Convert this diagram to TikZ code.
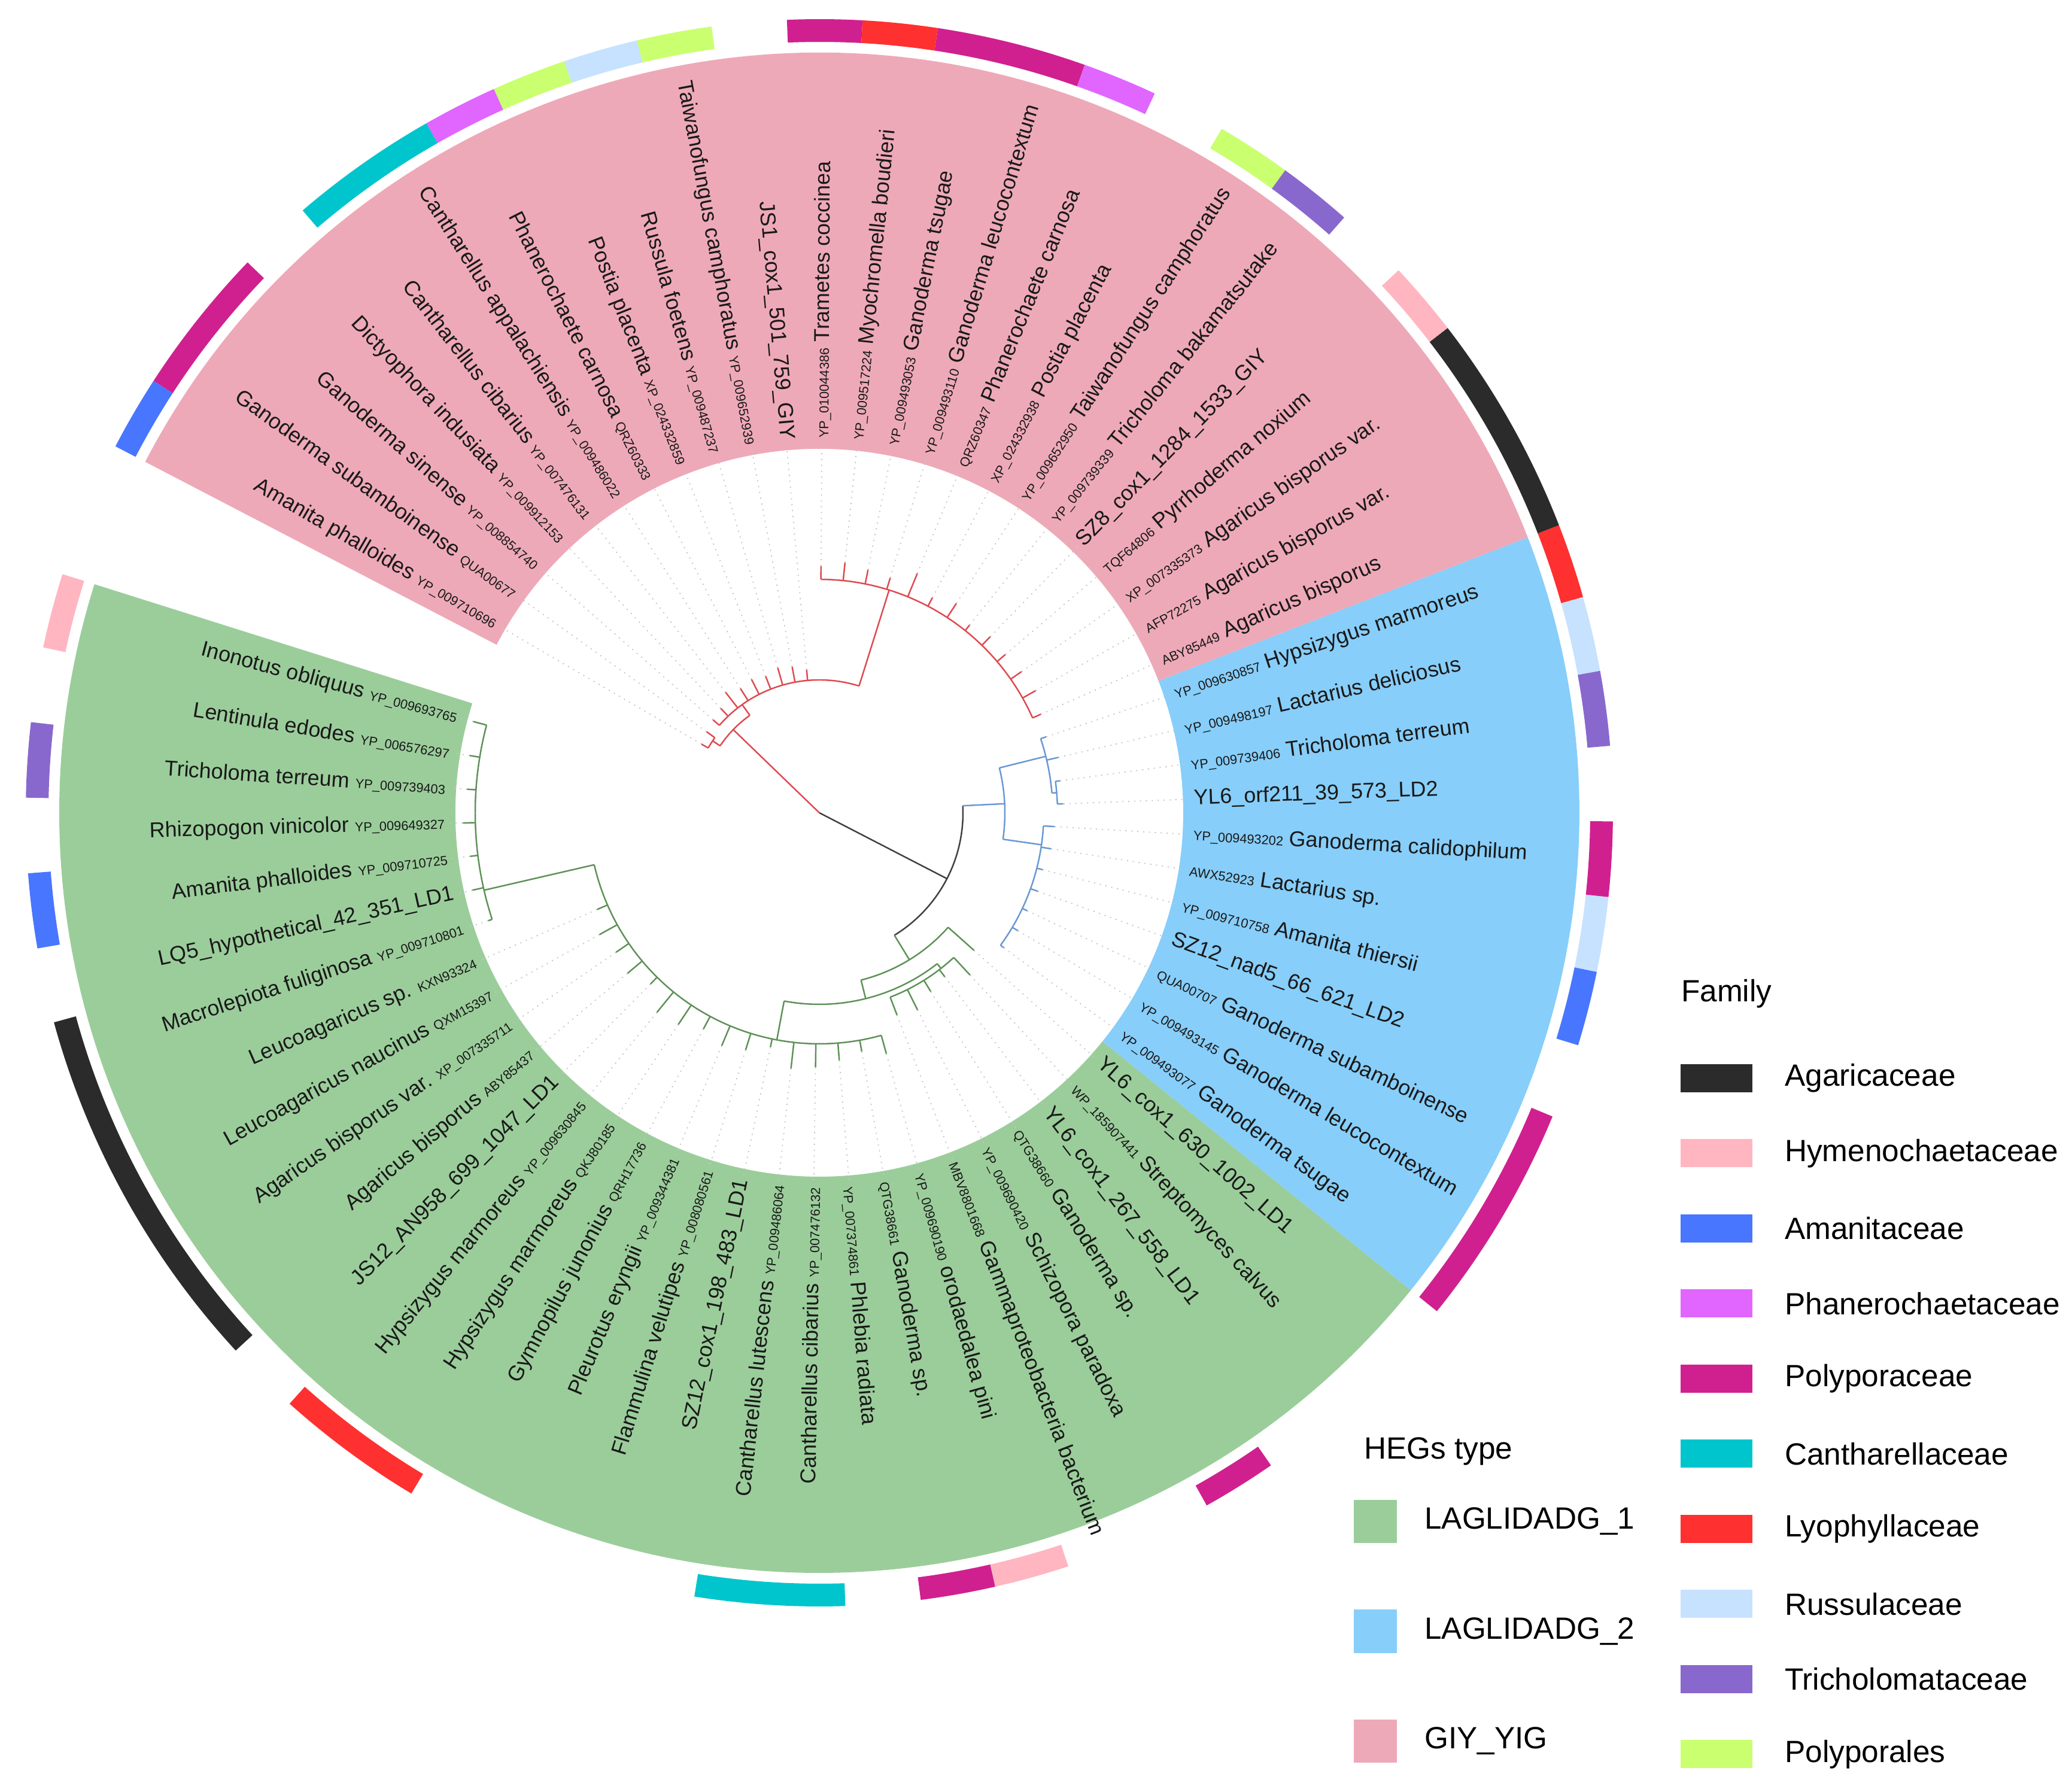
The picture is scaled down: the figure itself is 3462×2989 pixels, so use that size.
\documentclass[tikz,border=0pt]{standalone}
\usepackage{fontspec}
\setmainfont{Liberation Sans}
\usepackage{tikz}
\usetikzlibrary{calc, positioning}

\definecolor{agari}{HTML}{2B2B2B}
\definecolor{hyme}{HTML}{FFB6C1}
\definecolor{amani}{HTML}{4876FF}
\definecolor{phane}{HTML}{E066FF}
\definecolor{polyp}{HTML}{D02090}
\definecolor{canth}{HTML}{00C5CD}
\definecolor{lyoph}{HTML}{FF3030}
\definecolor{russu}{HTML}{C6E2FF}
\definecolor{trich}{HTML}{8968CD}
\definecolor{polyl}{HTML}{CAFF70}
\definecolor{ldone}{HTML}{9BCD9B}
\definecolor{ldtwo}{HTML}{87CEFA}
\definecolor{giy}{HTML}{EEA9B8}
\definecolor{trred}{HTML}{DE4A50}
\definecolor{trblue}{HTML}{6A98D2}
\definecolor{trgreen}{HTML}{5E9157}
\definecolor{trblack}{HTML}{404040}

\newcommand{\acc}[1]{{\fontsize{6.2}{7}\selectfont #1}}
% annular sector: colour, angle from, angle to, inner r, outer r
\newcommand{\annsec}[5]{\fill[#1] (#2:#4) arc[start angle=#2, end angle=#3, radius=#4] -- (#3:#5) arc[start angle=#3, end angle=#2, radius=#5] -- cycle;}

\tikzset{
  leaf/.style={inner sep=0pt, text=black!90, font=\fontsize{10.2}{12}\selectfont},
  leader/.style={draw=gray!45, line width=0.5pt, dash pattern=on 0.6pt off 2.2pt},
  legtext/.style={inner sep=0pt, anchor=west, font=\fontsize{14.6}{17}\selectfont},
  famkey/.style={minimum width=1.2cm, minimum height=0.47cm, inner sep=0pt},
  hegkey/.style={minimum width=0.72cm, minimum height=0.72cm, inner sep=0pt}
}

\begin{document}
\begin{tikzpicture}[x=0.01cm, y=0.01cm, line width=0.7pt]
\useasboundingbox (-1369,-1631) rectangle (2093,1358);

% HEGs type ranges
\annsec{ldone}{162.5}{321.09375}{608}{1270}
\annsec{ldtwo}{321.09375}{381.25}{608}{1270}
\annsec{giy}{21.25}{152.5}{608}{1270}

% family ring
\foreach \s/\e/\c in {0/0/hyme, 2/2/trich, 4/4/amani, 6/10/agari, 12/13/lyoph,
  18/19/canth, 21/21/polyp, 22/22/hyme, 25/25/polyp,
  29/31/polyp, 33/33/amani, 34/34/russu, 35/35/polyp, 37/37/trich, 38/38/russu, 39/39/lyoph,
  40/42/agari, 43/43/hyme, 45/45/trich, 46/46/polyl, 48/48/phane, 49/50/polyp, 51/51/lyoph,
  52/52/polyp, 54/54/polyl, 55/55/russu, 56/56/polyl, 57/57/phane, 58/59/canth, 61/62/polyp, 63/63/amani}{
  \pgfmathsetmacro{\angA}{162.5+5.46875*\s}
  \pgfmathsetmacro{\angB}{162.5+5.46875*(\e+1)}
  \annsec{\c}{\angA}{\angB}{1288}{1326}
}

% backbone
\draw[trblack] (0,0) -- (-27.3:240);
\draw[trblack] (-58.5:240) arc[start angle=-58.5, end angle=2.8, radius=240];
\draw[trred] (0,0) -- (136:200);

% inner nodes: radial parts and arcs
\foreach \ang/\ra/\rb/\c in {146/200/215/trred, 125.5/200/222/trred, 72.6/222/390/trred,
  2.8/240/310/trblue, 14/310/390/trblue, 4.85/390/398/trblue, -8.2/310/375/trblue,
  -58.5/240/288/trgreen, 284/288/320/trgreen, 308/320/330/trgreen, 259.4/320/386/trgreen, 193/386/575/trgreen}
  \draw[\c] (\ang:\ra) -- (\ang:\rb);
\foreach \r/\angA/\angB/\c in {200/125.5/146/trred, 215/144.3/149.77/trred, 222/72.6/138.83/trred, 390/23.98/89.61/trred,
  310/-8.2/14/trblue, 390/4.85/18.52/trblue, 398/2.1/7.6/trblue, 375/-36.17/-3.36/trblue,
  288/284/318.36/trgreen, 320/259.4/308/trgreen, 330/291.02/312.89/trgreen, 386/193/285.55/trgreen, 575/165.23/198.05/trgreen}
  \draw[\c] (\angA:\r) arc[start angle=\angA, end angle=\angB, radius=\r];

% leaves
\foreach \i/\tp/\pr/\lab/\c in {
  0/598/575/Inonotus obliquus \acc{YP\_009693765}/trgreen,
  1/592/575/Lentinula edodes \acc{YP\_006576297}/trgreen,
  2/590/575/Tricholoma terreum \acc{YP\_009739403}/trgreen,
  3/596/575/Rhizopogon vinicolor \acc{YP\_009649327}/trgreen,
  4/588/575/Amanita phalloides \acc{YP\_009710725}/trgreen,
  5/594/575/LQ5\_hypothetical\_42\_351\_LD1/trgreen,
  6/582/575/Macrolepiota fuliginosa \acc{YP\_009710801}/trgreen,
  7/405/386/Leucoagaricus sp. \acc{KXN93324}/trgreen,
  8/420/386/Leucoagaricus naucinus \acc{QXM15397}/trgreen,
  9/412/386/Agaricus bisporus var. \acc{XP\_007335711}/trgreen,
  10/418/386/Agaricus bisporus \acc{ABY85437}/trgreen,
  11/402/386/JS12\_AN958\_699\_1047\_LD1/trgreen,
  12/430/386/Hypsizygus marmoreus \acc{YP\_009630845}/trgreen,
  13/425/386/Hypsizygus marmoreus \acc{QKJ80185}/trgreen,
  14/410/386/Gymnopilus junonius \acc{QRH17736}/trgreen,
  15/422/386/Pleurotus eryngii \acc{YP\_009344381}/trgreen,
  16/415/386/Flammulina velutipes \acc{YP\_008080561}/trgreen,
  17/400/386/SZ12\_cox1\_198\_483\_LD1/trgreen,
  18/430/386/Cantharellus lutescens \acc{YP\_009486064}/trgreen,
  19/425/386/Cantharellus cibarius \acc{YP\_007476132}/trgreen,
  20/415/386/\acc{YP\_007374861} Phlebia radiata/trgreen,
  21/405/386/\acc{QTG38661} Ganoderma sp./trgreen,
  22/418/386/\acc{YP\_009690190} orodaedalea pini/trgreen,
  23/362/330/\acc{MBV8801668} Gammaproteobacteria bacterium/trgreen,
  24/368/330/\acc{YP\_009690420} Schizopora paradoxa/trgreen,
  25/352/330/\acc{QTG38660} Ganoderma sp./trgreen,
  26/345/330/YL6\_cox1\_267\_558\_LD1/trgreen,
  27/370/330/\acc{WP\_185907441} Streptomyces calvus/trgreen,
  28/346/288/YL6\_cox1\_630\_1002\_LD1/trgreen,
  29/382/375/\acc{YP\_009493077} Ganoderma tsugae/trblue,
  30/386/375/\acc{YP\_009493145} Ganoderma leucocontextum/trblue,
  31/384/375/\acc{QUA00707} Ganoderma subamboinense/trblue,
  32/388/375/SZ12\_nad5\_66\_621\_LD2/trblue,
  33/385/375/\acc{YP\_009710758} Amanita thiersii/trblue,
  34/392/375/\acc{AWX52923} Lactarius sp./trblue,
  35/394/375/\acc{YP\_009493202} Ganoderma calidophilum/trblue,
  36/408/398/YL6\_orf211\_39\_573\_LD2/trblue,
  37/406/398/\acc{YP\_009739406} Tricholoma terreum/trblue,
  38/410/390/\acc{YP\_009498197} Lactarius deliciosus/trblue,
  39/400/390/\acc{YP\_009630857} Hypsizygus marmoreus/trblue,
  40/405/390/\acc{ABY85449} Agaricus bisporus/trred,
  41/415/390/\acc{AFP72275} Agaricus bisporus var./trred,
  42/412/390/\acc{XP\_007335373} Agaricus bisporus var./trred,
  43/408/390/\acc{TQF64806} Pyrrhoderma noxium/trred,
  44/410/390/SZ8\_cox1\_1284\_1533\_GIY/trred,
  45/402/390/\acc{YP\_009739339} Tricholoma bakamatsutake/trred,
  46/418/390/\acc{YP\_009652950} Taiwanofungus camphoratus/trred,
  47/406/390/\acc{XP\_024332938} Postia placenta/trred,
  48/432/390/\acc{QRZ60347} Phanerochaete carnosa/trred,
  49/410/390/\acc{YP\_009493110} Ganoderma leucocontextum/trred,
  50/414/390/\acc{YP\_009493053} Ganoderma tsugae/trred,
  51/420/390/\acc{YP\_009517224} Myochromella boudieri/trred,
  52/412/390/\acc{YP\_010044386} Trametes coccinea/trred,
  53/240/222/JS1\_cox1\_501\_759\_GIY/trred,
  54/248/222/Taiwanofungus camphoratus \acc{YP\_009652939}/trred,
  55/252/222/Russula foetens \acc{YP\_009487237}/trred,
  56/245/222/Postia placenta \acc{XP\_024332859}/trred,
  57/250/222/Phanerochaete carnosa \acc{QRZ60333}/trred,
  58/246/222/Cantharellus appalachiensis \acc{YP\_009486022}/trred,
  59/255/222/Cantharellus cibarius \acc{YP\_007476131}/trred,
  60/240/222/Dictyophora indusiata \acc{YP\_009912153}/trred,
  61/236/222/Ganoderma sinense \acc{YP\_008854740}/trred,
  62/232/215/Ganoderma subamboinense \acc{QUA00677}/trred,
  63/228/215/Amanita phalloides \acc{YP\_009710696}/trred}{
  \pgfmathsetmacro{\ang}{mod(162.5+5.46875*(\i+0.5),360)}
  \draw[\c] (\ang:\pr) -- (\ang:\tp);
  \draw[leader] (\ang:\tp) -- (\ang:620);
  \pgfmathtruncatemacro{\lft}{(\ang>90)&&(\ang<270)}
  \ifnum\lft=1
    \node[leaf, anchor=east, rotate=\ang+180] (lf\i) at (\ang:625) {\lab};
  \else
    \node[leaf, anchor=west, rotate=\ang] (lf\i) at (\ang:625) {\lab};
  \fi
}

% legends
\node[legtext] (famtitle) at (1439,-302) {Family};
\foreach \k/\c/\t in {0/agari/Agaricaceae, 1/hyme/Hymenochaetaceae, 2/amani/Amanitaceae,
  3/phane/Phanerochaetaceae, 4/polyp/Polyporaceae, 5/canth/Cantharellaceae, 6/lyoph/Lyophyllaceae,
  7/russu/Russulaceae, 8/trich/Tricholomataceae, 9/polyl/Polyporales}{
  \pgfmathsetmacro{\yy}{-443.4-125.5*\k}
  \node[famkey, fill=\c] (fk\k) at (1499,\yy) {};
  \node[legtext] (ft\k) at (1612,\yy) {\t};
}
\node[legtext] (hegtitle) at (909,-1067) {HEGs type};
\foreach \k/\c/\t in {0/ldone/LAGLIDADG\_1, 1/ldtwo/LAGLIDADG\_2, 2/giy/GIY\_YIG}{
  \pgfmathsetmacro{\yy}{-1184-183.5*\k}
  \node[hegkey, fill=\c] (hk\k) at (929,\yy) {};
  \node[legtext] (ht\k) at (1010,\yy) {\t};
}
\end{tikzpicture}
\end{document}
